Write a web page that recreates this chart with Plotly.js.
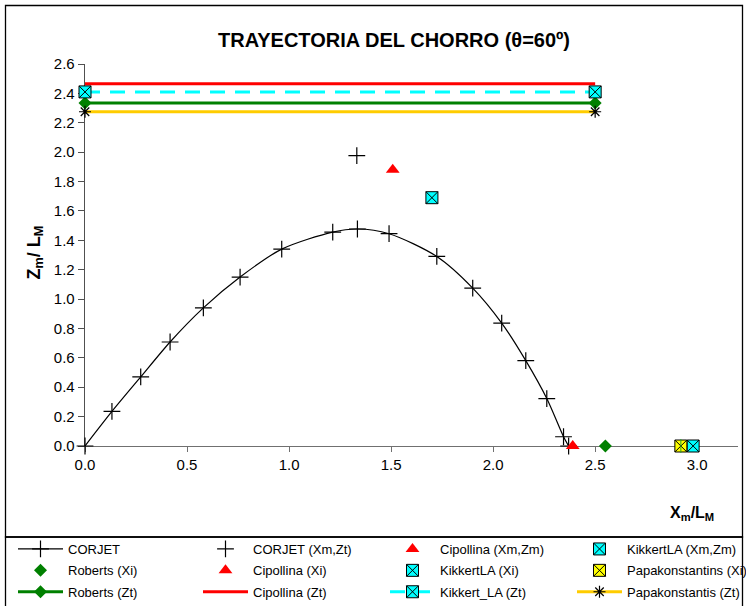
<!DOCTYPE html>
<html>
<head>
<meta charset="utf-8">
<script src="https://cdn.plot.ly/plotly-3.0.1.min.js"></script>
<style>
  html, body { margin: 0; padding: 0; background: #fff; }
  #chart { width: 746px; height: 606px; }
</style>
</head>
<body>
<div id="chart"></div>
<script>
// Trajectory of the jet (CORJET model) with reference results from other authors
const corjetX = [0, 0.132, 0.273, 0.417, 0.58, 0.76, 0.964, 1.214, 1.335, 1.49, 1.724, 1.90, 2.042, 2.16, 2.263, 2.345, 2.37];
const corjetZ = [0, 0.235, 0.47, 0.708, 0.94, 1.15, 1.34, 1.456, 1.477, 1.445, 1.29, 1.075, 0.837, 0.581, 0.323, 0.063, 0];

const corjetXmZtX = [1.332];
const corjetXmZtZ = [1.977];

const cipollinaXmZmX = [1.508];
const cipollinaXmZmZ = [1.88];

const kikkertXmZmX = [1.70];
const kikkertXmZmZ = [1.69];

// Impact points on the bottom (Xi)
const robertsXi = [2.55];
const cipollinaXi = [2.39];
const kikkertXi = [2.98];
const papakonstantinsXi = [2.92];

// Terminal rise heights (Zt), drawn as horizontal reference lines
const ztSpanX = [0, 2.5];
const robertsZt = 2.335;
const cipollinaZt = 2.465;
const kikkertZt = 2.41;
const papakonstantisZt = 2.275;

const xTickVals = [0, 0.5, 1.0, 1.5, 2.0, 2.5, 3.0];
const xTickText = ['0.0', '0.5', '1.0', '1.5', '2.0', '2.5', '3.0'];
const yTickVals = [0, 0.2, 0.4, 0.6, 0.8, 1.0, 1.2, 1.4, 1.6, 1.8, 2.0, 2.2, 2.4, 2.6];
const yTickText = yTickVals.map(v => v.toFixed(1));

// ---- page geometry ----
const W = 746, H = 606;
const M = { l: 85, r: 8, t: 64, b: 160, autoexpand: false };
const PW = W - M.l - M.r, PH = H - M.t - M.b;
const px = x => (x - M.l) / PW;          // pixel -> paper x
const py = y => (H - M.b - y) / PH;      // pixel -> paper y

const font = 'Arial, "Liberation Sans", sans-serif';
const GREEN = '#008000', RED = '#ff0000', CYAN = '#00ffff', GOLD = '#ffcc00', YELLOW = '#ffff00';

const flat = (v, n) => Array(n).fill(v);

const crossMarker = { symbol: 'cross-thin-open', size: 12, color: '#000', line: { color: '#000', width: 1.2 } };
const kikMarker = { symbol: 'square-x', size: 12, color: CYAN, line: { color: '#000', width: 1 } };
const papMarker = { symbol: 'square-x', size: 12, color: YELLOW, line: { color: '#000', width: 1 } };

const traces = [
  // column 1
  { name: 'CORJET', x: corjetX, y: corjetZ, mode: 'lines+markers',
    line: { color: '#000', width: 1.2, shape: 'spline', smoothing: 0.8 },
    marker: crossMarker, legend: 'legend', legendgroup: 'a1' },
  { name: 'Roberts (Xi)', x: robertsXi, y: flat(0, robertsXi.length), mode: 'markers',
    marker: { symbol: 'diamond', size: 10, color: GREEN }, legend: 'legend', legendgroup: 'a2' },
  { name: 'Roberts (Zt)', x: ztSpanX, y: flat(robertsZt, ztSpanX.length), mode: 'lines+markers',
    line: { color: GREEN, width: 3 }, marker: { symbol: 'diamond', size: 10, color: GREEN },
    legend: 'legend', legendgroup: 'a3' },

  // column 2
  { name: 'CORJET (Xm,Zt)', x: corjetXmZtX, y: corjetXmZtZ, mode: 'markers',
    marker: crossMarker, legend: 'legend2', legendgroup: 'b1' },
  { name: 'Cipollina (Xi)', x: cipollinaXi, y: flat(0, cipollinaXi.length), mode: 'markers',
    marker: { symbol: 'triangle-up', size: 12, color: RED }, legend: 'legend2', legendgroup: 'b2' },
  { name: 'Cipollina (Zt)', x: ztSpanX, y: flat(cipollinaZt, ztSpanX.length), mode: 'lines',
    line: { color: RED, width: 3 }, legend: 'legend2', legendgroup: 'b3' },

  // column 3
  { name: 'Cipollina (Xm,Zm)', x: cipollinaXmZmX, y: cipollinaXmZmZ, mode: 'markers',
    marker: { symbol: 'triangle-up', size: 12, color: RED }, legend: 'legend3', legendgroup: 'c1' },
  { name: 'KikkertLA (Xi)', x: kikkertXi, y: flat(0, kikkertXi.length), mode: 'markers',
    marker: kikMarker, legend: 'legend3', legendgroup: 'c2' },
  { name: 'Kikkert_LA (Zt)', x: ztSpanX, y: flat(kikkertZt, ztSpanX.length), mode: 'lines+markers',
    line: { color: CYAN, width: 3, dash: '15px,10px' }, marker: kikMarker,
    legend: 'legend3', legendgroup: 'c3' },

  // column 4
  { name: 'KikkertLA (Xm,Zm)', x: kikkertXmZmX, y: kikkertXmZmZ, mode: 'markers',
    marker: kikMarker, legend: 'legend4', legendgroup: 'd1' },
  { name: 'Papakonstantins (Xi)', x: papakonstantinsXi, y: flat(0, papakonstantinsXi.length), mode: 'markers',
    marker: papMarker, legend: 'legend4', legendgroup: 'd2' },
  { name: 'Papakonstantis (Zt)', x: ztSpanX, y: flat(papakonstantisZt, ztSpanX.length), mode: 'lines+markers',
    line: { color: GOLD, width: 3 },
    marker: { symbol: 'asterisk-open', size: 10, color: '#000', line: { color: '#000', width: 1.2 } },
    legend: 'legend4', legendgroup: 'd3' },

  // vertical stroke completing the asterisk on the Papakonstantins impact marker
  { x: papakonstantinsXi, y: flat(0, papakonstantinsXi.length), mode: 'markers', showlegend: false,
    hoverinfo: 'skip',
    marker: { symbol: 'line-ns-open', size: 10, line: { color: '#000', width: 1 } } }
];
traces.forEach(t => { t.type = 'scatter'; t.cliponaxis = false; });

const legendBase = {
  orientation: 'v', xref: 'paper', yref: 'paper',
  xanchor: 'left', yanchor: 'top', y: py(534),
  bgcolor: 'rgba(0,0,0,0)', borderwidth: 0,
  font: { family: font, size: 13, color: '#000' },
  itemwidth: 45, tracegroupgap: 1.5, traceorder: 'grouped', itemclick: false
};
const legendAt = left => Object.assign({}, legendBase, { x: px(left) });

const layout = {
  width: W, height: H,
  margin: M,
  paper_bgcolor: '#fff', plot_bgcolor: '#fff',
  font: { family: font, color: '#000' },
  title: {
    text: '<b>TRAYECTORIA DEL CHORRO (θ=60º)</b>',
    font: { family: font, size: 20, color: '#000' },
    xref: 'container', yref: 'container',
    x: 394 / W, y: 1 - 40 / H, xanchor: 'center', yanchor: 'middle'
  },
  xaxis: {
    range: [0, 3.2], tickvals: xTickVals, ticktext: xTickText,
    showgrid: false, zeroline: false, showline: true, linecolor: '#707070', linewidth: 1.3,
    ticks: 'outside', ticklen: 5, tickcolor: '#707070', tickwidth: 1,
    tickfont: { family: font, size: 15, color: '#000' }, layer: 'below traces', fixedrange: true
  },
  yaxis: {
    range: [0, 2.6], tickvals: yTickVals, ticktext: yTickText,
    showgrid: false, zeroline: false, showline: true, linecolor: '#505050', linewidth: 1.3,
    ticks: 'outside', ticklen: 6, tickcolor: '#505050', tickwidth: 1,
    tickfont: { family: font, size: 15, color: '#000' }, layer: 'below traces', fixedrange: true
  },
  legend: legendAt(13),
  legend2: legendAt(198),
  legend3: legendAt(385),
  legend4: legendAt(572),
  annotations: [
    { text: '<b>Z<sub>m</sub>/ L<sub>M</sub></b>', xref: 'paper', yref: 'paper',
      x: px(21), y: py(253), textangle: -90, showarrow: false,
      font: { family: font, size: 18, color: '#000' } },
    { text: '<b>X<sub>m</sub>/L<sub>M</sub></b>', xref: 'paper', yref: 'paper',
      x: px(716), y: py(525), showarrow: false,
      font: { family: font, size: 16, color: '#000' } }
  ],
  shapes: [
    // chart frame
    { type: 'rect', xref: 'paper', yref: 'paper', x0: px(5.5), x1: px(742.5), y0: py(537), y1: py(5.5),
      line: { color: '#000', width: 1.3 }, fillcolor: 'rgba(0,0,0,0)', layer: 'below' },
    // legend frame
    { type: 'rect', xref: 'paper', yref: 'paper', x0: px(5.5), x1: px(742.5), y0: py(612), y1: py(537),
      line: { color: '#000', width: 1.3 }, fillcolor: 'rgba(0,0,0,0)', layer: 'below' }
  ]
};

Plotly.newPlot('chart', traces, layout, { staticPlot: true, displayModeBar: false });
</script>
</body>
</html>
